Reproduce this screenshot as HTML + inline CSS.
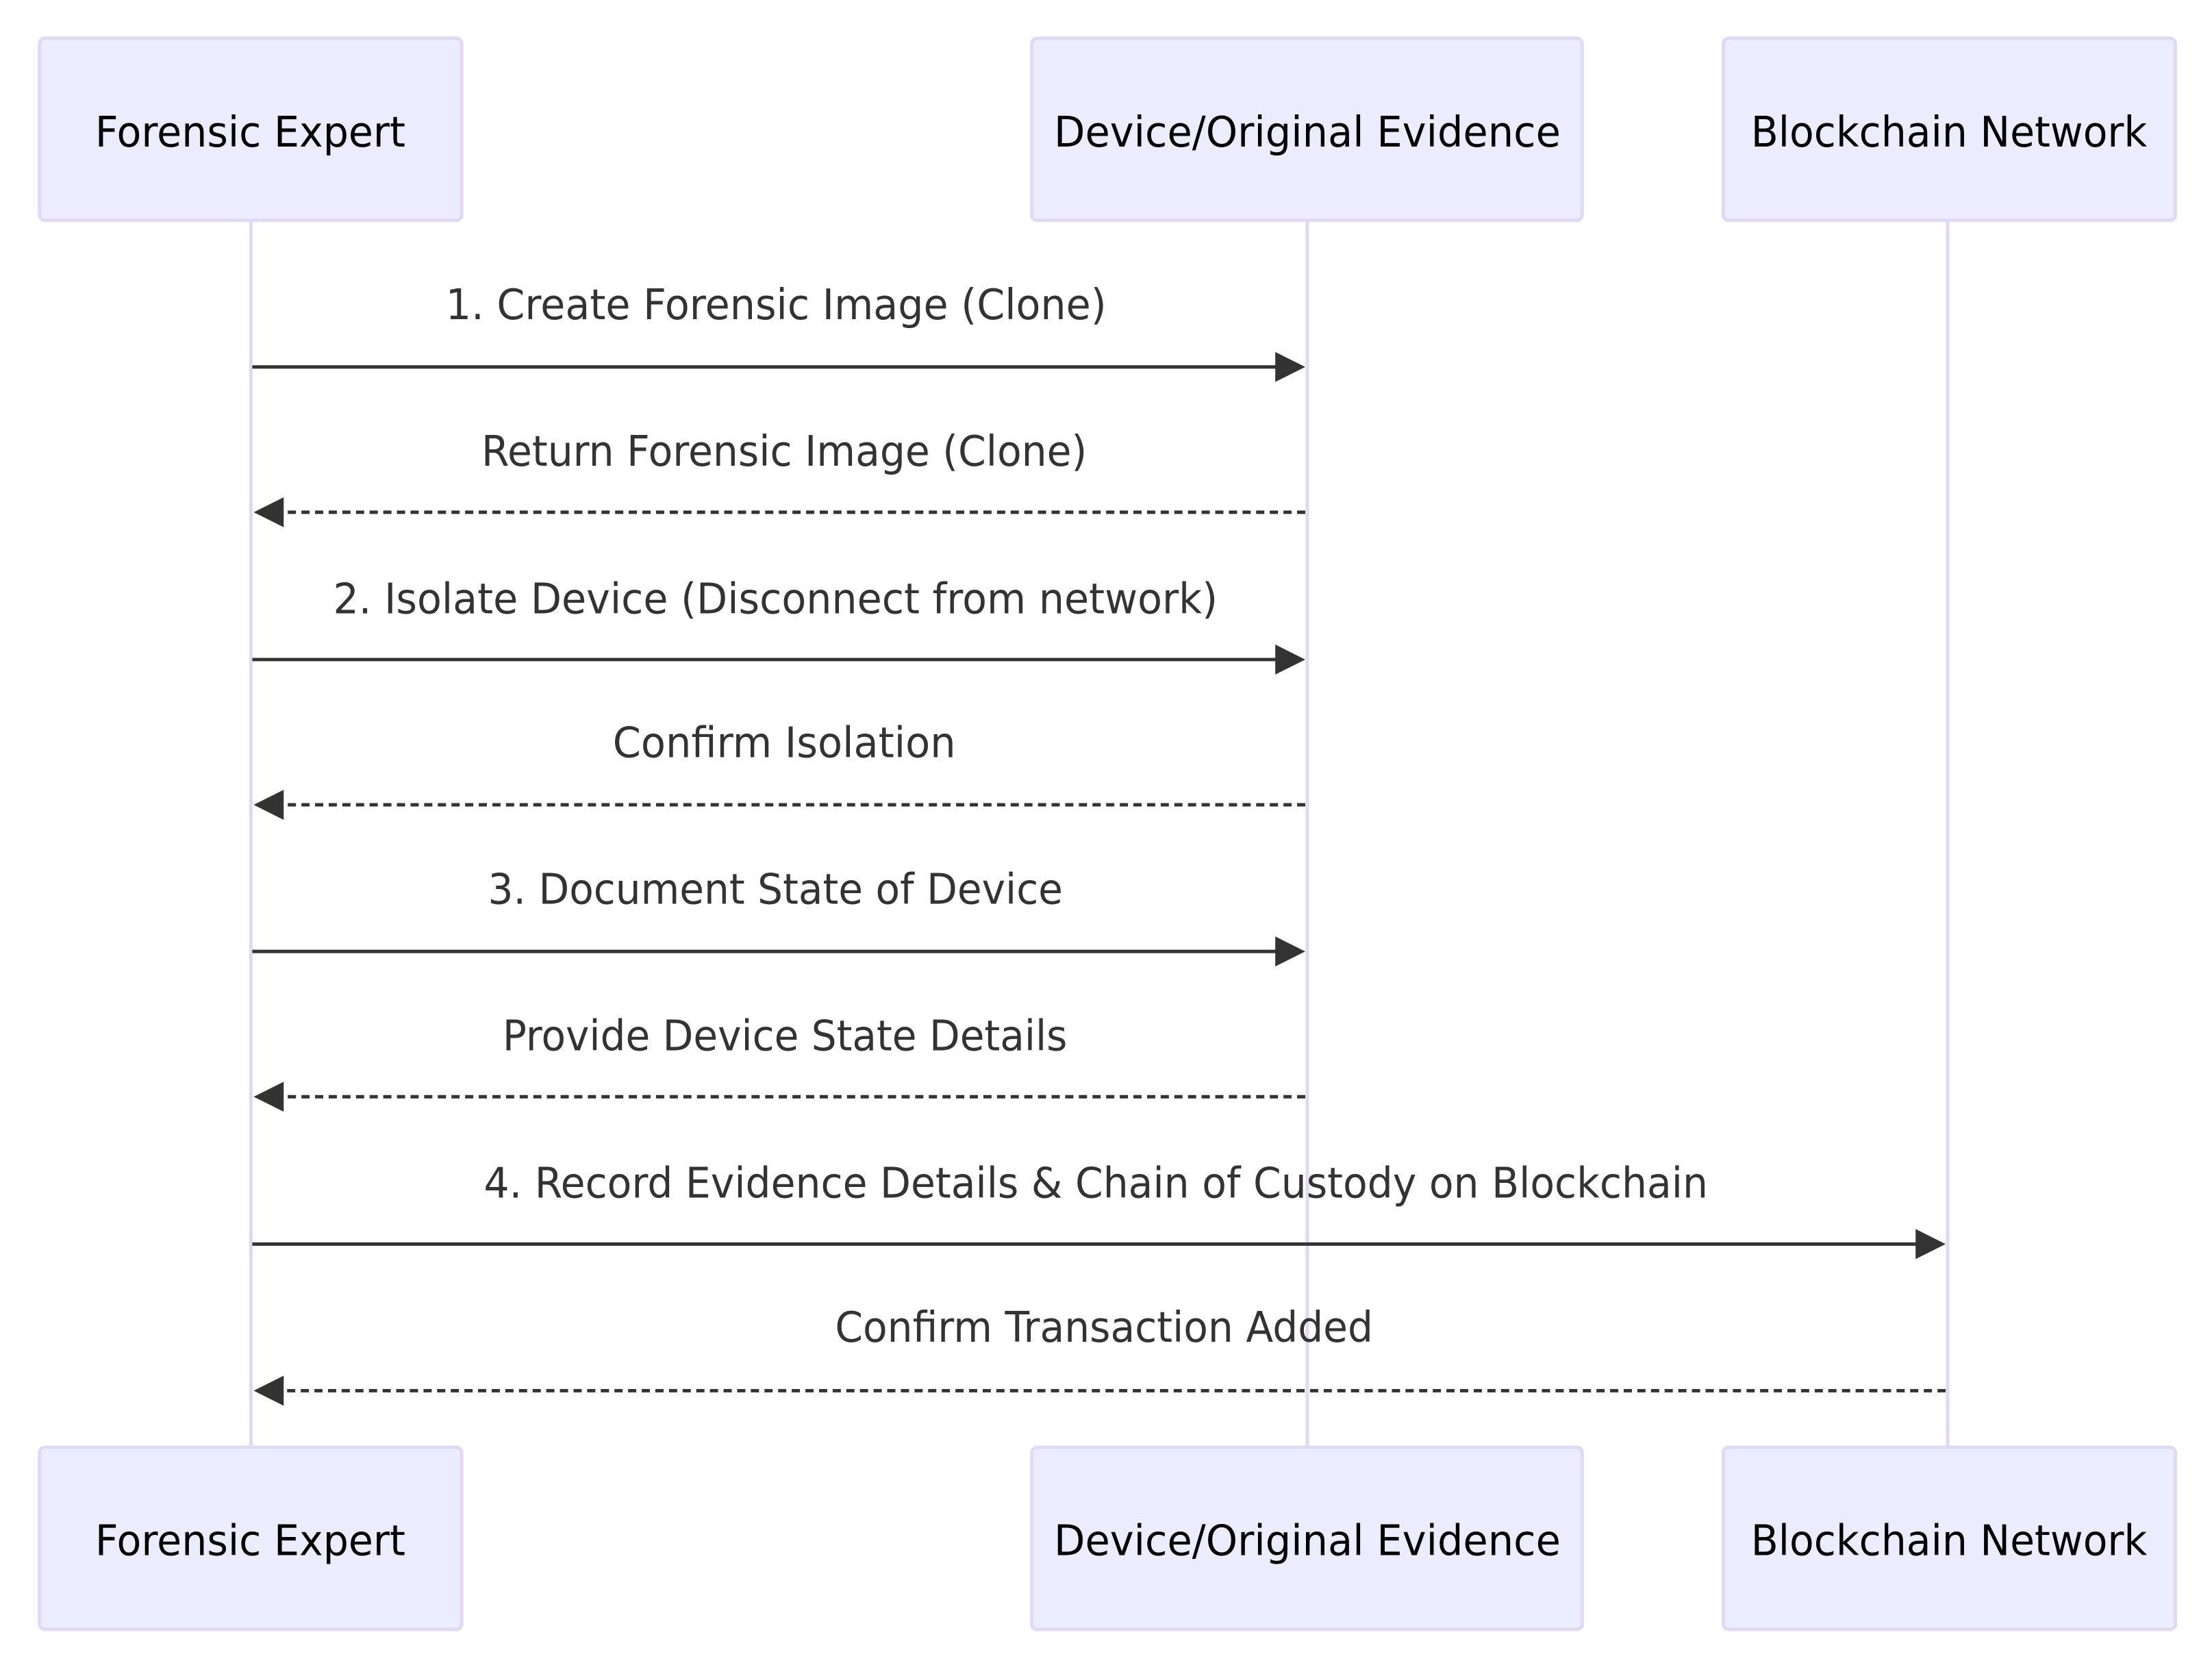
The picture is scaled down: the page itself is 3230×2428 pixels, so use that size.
<!DOCTYPE html>
<html><head><meta charset="utf-8"><style>
html,body{margin:0;padding:0;background:#fff;}
svg{display:block;}
text{font-family:"DejaVu Sans","Liberation Sans",sans-serif;}
</style></head><body>
<svg width="3230" height="2428" viewBox="0 0 3230 2428" xmlns="http://www.w3.org/2000/svg">
<g transform="scale(0.9958)">
<g stroke="#e0d8f6" stroke-width="5">
<line x1="368" y1="323" x2="368" y2="2122"/>
<line x1="1917" y1="323" x2="1917" y2="2122"/>
<line x1="2856" y1="323" x2="2856" y2="2122"/>
</g>
<g fill="#ECECFF" stroke="#e0d8f6" stroke-width="5">
<rect x="58" y="56" width="619" height="267" rx="8"/>
<rect x="1513" y="56" width="807" height="267" rx="8"/>
<rect x="2527" y="56" width="663" height="267" rx="8"/>
<rect x="58" y="2122" width="619" height="267" rx="8"/>
<rect x="1513" y="2122" width="807" height="267" rx="8"/>
<rect x="2527" y="2122" width="663" height="267" rx="8"/>
</g>
<g fill="#000" font-size="62" text-anchor="middle" dominant-baseline="central">
<text x="367" y="194" textLength="455" lengthAdjust="spacingAndGlyphs">Forensic Expert</text>
<text x="1917" y="194" textLength="743" lengthAdjust="spacingAndGlyphs">Device/Original Evidence</text>
<text x="2858" y="194" textLength="581" lengthAdjust="spacingAndGlyphs">Blockchain Network</text>
<text x="367" y="2259" textLength="455" lengthAdjust="spacingAndGlyphs">Forensic Expert</text>
<text x="1917" y="2259" textLength="743" lengthAdjust="spacingAndGlyphs">Device/Original Evidence</text>
<text x="2858" y="2259" textLength="581" lengthAdjust="spacingAndGlyphs">Blockchain Network</text>
</g>
<g fill="#333" font-size="62" text-anchor="middle" dominant-baseline="central">
<text x="1138" y="447" textLength="969" lengthAdjust="spacingAndGlyphs">1. Create Forensic Image (Clone)</text>
<text x="1150" y="662" textLength="888" lengthAdjust="spacingAndGlyphs">Return Forensic Image (Clone)</text>
<text x="1137" y="878" textLength="1297" lengthAdjust="spacingAndGlyphs">2. Isolate Device (Disconnect from network)</text>
<text x="1150" y="1089" textLength="503" lengthAdjust="spacingAndGlyphs">Confirm Isolation</text>
<text x="1137" y="1304" textLength="843" lengthAdjust="spacingAndGlyphs">3. Document State of Device</text>
<text x="1151" y="1519" textLength="828" lengthAdjust="spacingAndGlyphs">Provide Device State Details</text>
<text x="1607" y="1735" textLength="1795" lengthAdjust="spacingAndGlyphs">4. Record Evidence Details &amp; Chain of Custody on Blockchain</text>
<text x="1619" y="1946" textLength="789" lengthAdjust="spacingAndGlyphs">Confirm Transaction Added</text>
</g>
<g stroke="#333" stroke-width="5" fill="none">
<line x1="370" y1="538" x2="1880" y2="538"/>
<line x1="370" y1="967" x2="1880" y2="967"/>
<line x1="370" y1="1395" x2="1880" y2="1395"/>
<line x1="370" y1="1824" x2="2815" y2="1824"/>
<g stroke-dasharray="12 8">
<line x1="1914" y1="751" x2="410" y2="751"/>
<line x1="1914" y1="1180" x2="410" y2="1180"/>
<line x1="1914" y1="1608" x2="410" y2="1608"/>
<line x1="2853" y1="2039" x2="410" y2="2039"/>
</g>
</g>
<g fill="#333">
<polygon points="1870,516 1914,538 1870,560"/>
<polygon points="1870,945 1914,967 1870,989"/>
<polygon points="1870,1373 1914,1395 1870,1417"/>
<polygon points="2809,1802 2853,1824 2809,1846"/>
<polygon points="416,729 372,751 416,773"/>
<polygon points="416,1158 372,1180 416,1202"/>
<polygon points="416,1586 372,1608 416,1630"/>
<polygon points="416,2017 372,2039 416,2061"/>
</g>
</g>
</svg>
</body></html>
